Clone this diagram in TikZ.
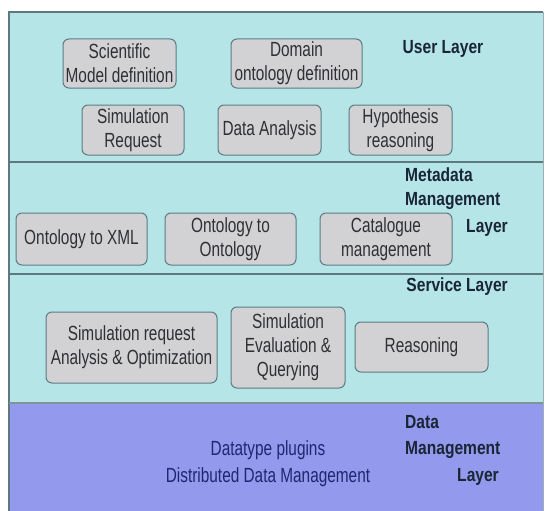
\documentclass[tikz,border=0pt]{standalone}
\usepackage{fontspec}
\setmainfont[FakeStretch=0.75]{Liberation Sans}
\newfontfamily\labelfont[FakeStretch=0.82]{Liberation Sans}
\definecolor{layercyan}{HTML}{B6E5E7}
\definecolor{layerblue}{HTML}{9399EC}
\definecolor{framegray}{HTML}{5E7A7E}
\definecolor{boxgray}{HTML}{D2D2D4}
\definecolor{boxedge}{HTML}{5A7C84}
\definecolor{boxtext}{HTML}{2E3034}
\definecolor{labeltext}{HTML}{1A2636}
\definecolor{datatext}{HTML}{1E2870}
\begin{document}
\begin{tikzpicture}[x=1pt,y=-1pt,
  layer/.style={draw=framegray,line width=1.3pt},
  boxnode/.style={draw=boxedge,fill=boxgray,rounded corners=6pt,line width=1pt,
    inner sep=0pt,align=center,text=boxtext,font=\fontsize{20.5}{24}\selectfont},
  laylabel/.style={text=labeltext,font=\labelfont\fontsize{19}{27}\bfseries\selectfont,inner sep=0pt},
  datalabel/.style={text=datatext,font=\fontsize{20.5}{27}\selectfont,inner sep=0pt,align=center}]
\useasboundingbox (0,0) rectangle (546,511);
% layers
\fill[layercyan] (9,12) rectangle (543,403);
\fill[layerblue] (9,403) rectangle (543,511);
\draw[layer] (543,12) -- (9,12) -- (9,511);
\draw[framegray!60,line width=0.8pt] (543,12) -- (543,511);
\draw[layer] (9,162) -- (543,162);
\draw[layer] (9,274) -- (543,274);
\draw[layer,draw=framegray!80] (9,403) -- (543,403);
% user layer
\node[boxnode,minimum width=113pt,minimum height=49pt] (smd) at (119.5,63.5) {Scientific\\Model definition};
\node[boxnode,minimum width=131pt,minimum height=49pt] (dod) at (296.5,63.5) {Domain\\ontology definition};
\node[laylabel] (ul) at (443,49) {User Layer};
\node[boxnode,minimum width=102pt,minimum height=50pt] (sr) at (133,130) {Simulation\\Request};
\node[boxnode,minimum width=103pt,minimum height=50pt] (da) at (269.5,130) {Data Analysis};
\node[boxnode,minimum width=103pt,minimum height=50pt] (hr) at (400.5,130) {Hypothesis\\reasoning};
% metadata layer
\node[laylabel,anchor=west] (mdl1) at (405,175) {Metadata};
\node[laylabel,anchor=west] (mdl2) at (405,201) {Management};
\node[laylabel,anchor=east] (mdl3) at (508,228) {Layer};
\node[boxnode,minimum width=131pt,minimum height=52pt] (oxml) at (81.5,239) {Ontology to XML};
\node[boxnode,minimum width=131pt,minimum height=52pt] (oo) at (230.5,239) {Ontology to\\Ontology};
\node[boxnode,minimum width=132pt,minimum height=52pt] (cm) at (386,239) {Catalogue\\management};
% service layer
\node[laylabel,anchor=east] (sl) at (508,287) {Service Layer};
\node[boxnode,minimum width=171pt,minimum height=71pt] (sra) at (131.5,347.5) {Simulation request\\Analysis \& Optimization};
\node[boxnode,minimum width=114pt,minimum height=81pt] (seq) at (288,347.5) {Simulation\\Evaluation \&\\Querying};
\node[boxnode,minimum width=133pt,minimum height=50pt] (rs) at (421.5,347) {Reasoning};
% data layer
\node[laylabel,anchor=west] (dl1) at (405,422) {Data};
\node[laylabel,anchor=west] (dl2) at (405,450) {Management};
\node[laylabel,anchor=east] (dl3) at (499,477) {Layer};
\node[datalabel] (dp) at (268,450) {Datatype plugins};
\node[datalabel] (ddm) at (268,477) {Distributed Data Management};
\end{tikzpicture}
\end{document}
